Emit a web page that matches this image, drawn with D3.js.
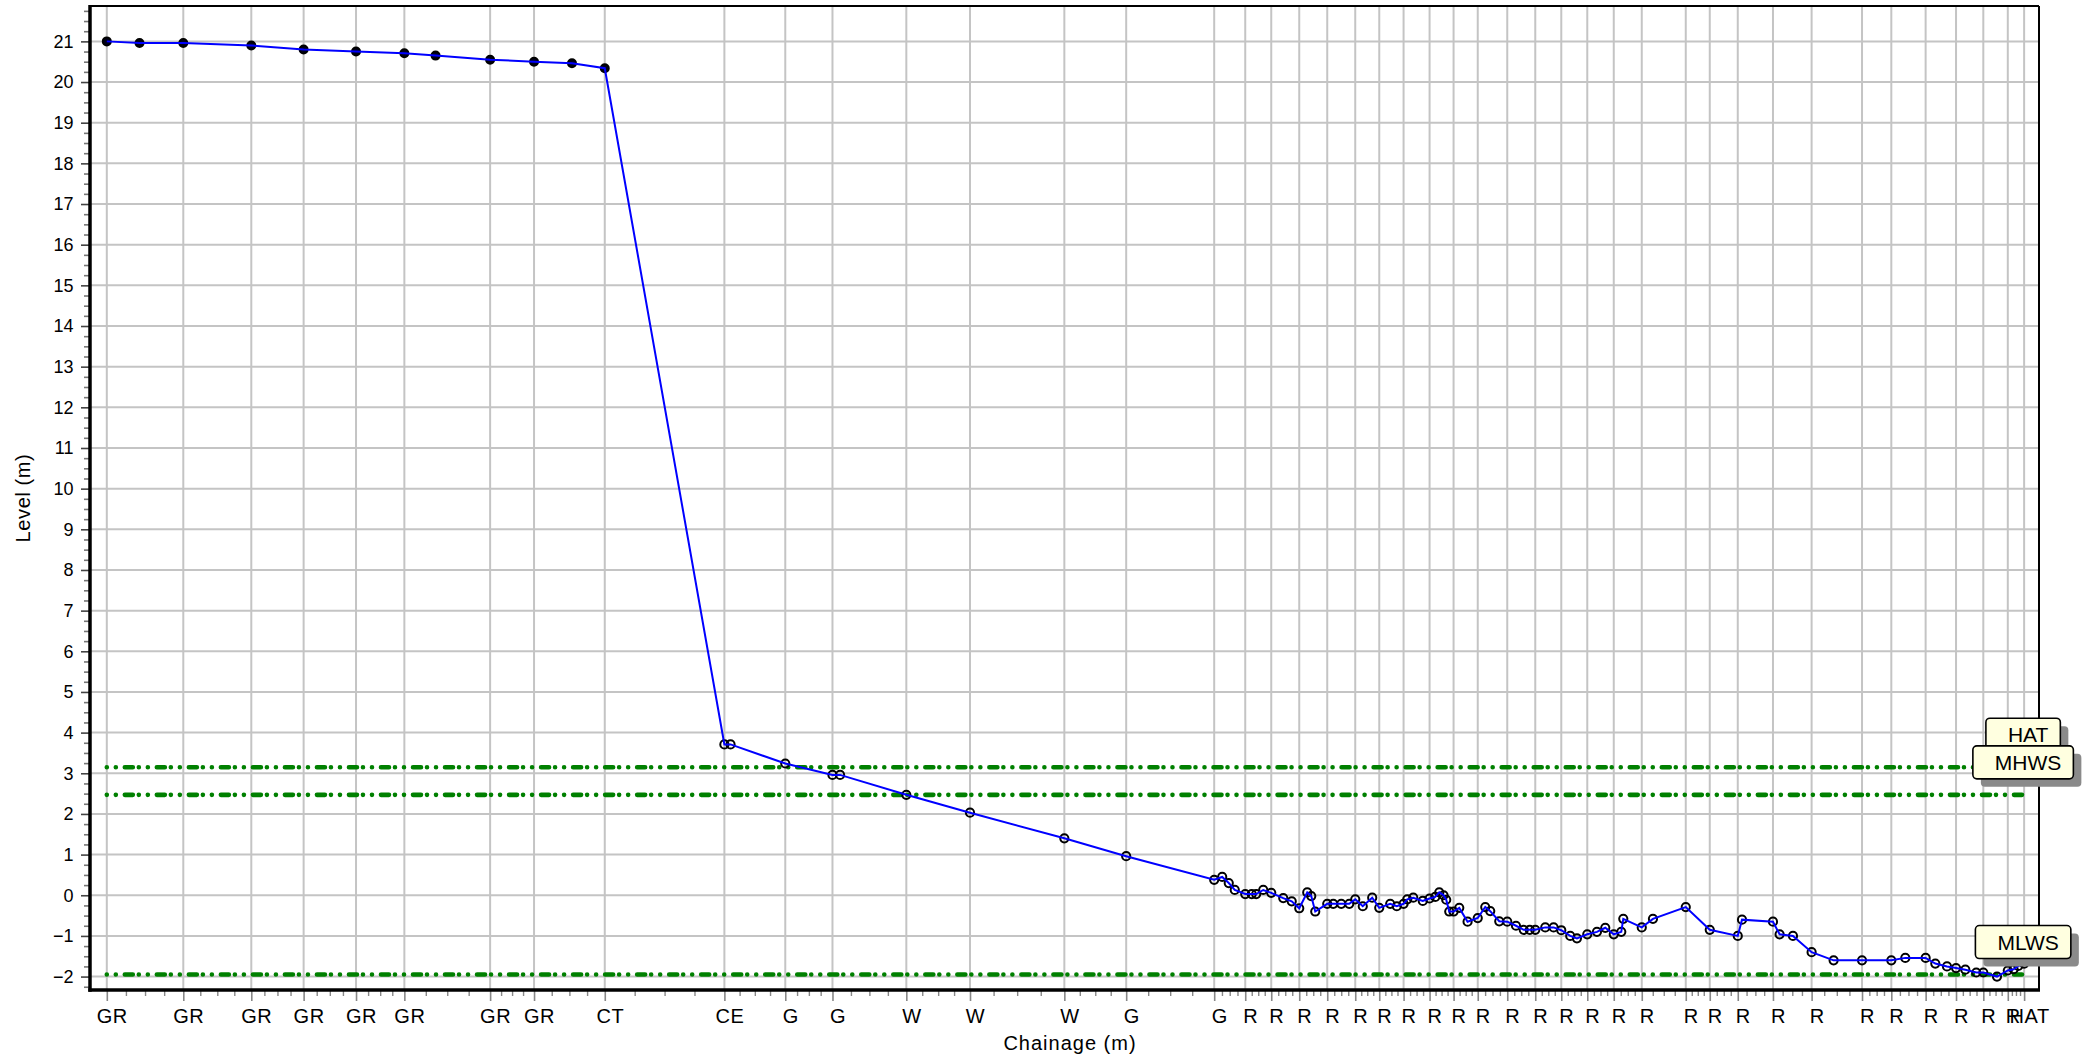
<!DOCTYPE html>
<html><head><meta charset="utf-8">
<script src="https://cdn.jsdelivr.net/npm/d3@7"></script>
<style>
html,body{margin:0;padding:0;background:#fff;}
svg{display:block;font-family:"Liberation Sans",Arial,Helvetica,sans-serif;}
</style></head><body>
<svg id="chart" width="2091" height="1057"></svg>
<script>
// ---- data (chainage in m, level in m) ----
const chainage = [
  0, 4.09, 9.56, 18.06, 24.6, 31.15, 37.19, 41.09, 47.91, 53.4,
  58.14, 62.24, 77.19, 77.96, 84.8, 90.7, 91.65, 99.93, 107.89, 119.68,
  127.41, 138.41, 139.41, 140.23, 140.98, 142.29, 143.1, 143.66, 144.54, 145.54,
  147.04, 148.1, 149.04, 150.04, 150.54, 151.04, 152.54, 153.29, 154.29, 155.29,
  156.04, 156.98, 158.16, 159.04, 160.41, 161.23, 162.08, 162.54, 163.29, 164.48,
  165.33, 166.04, 166.54, 167.08, 167.41, 167.79, 168.33, 169.04, 170.08, 171.35,
  172.29, 172.91, 174.04, 175.04, 176.13, 177.1, 177.85, 178.54, 179.79, 180.83,
  181.79, 182.91, 183.75, 185.04, 186.25, 187.29, 188.35, 189.29, 189.54, 191.85,
  193.25, 197.35, 200.35, 203.85, 204.38, 208.25, 209.08, 210.75, 213.08, 215.83,
  219.38, 223.04, 224.79, 227.33, 228.54, 230.0, 231.13, 232.29, 233.66, 234.54,
  236.25, 237.6, 238.33, 238.91, 239.64
];
const level = [
  21.0, 20.96, 20.96, 20.90, 20.80, 20.75, 20.71, 20.65, 20.55, 20.50,
  20.46, 20.34, 3.71, 3.71, 3.24, 2.96, 2.96, 2.47, 2.03, 1.40,
  0.96, 0.38, 0.45, 0.30, 0.13, 0.03, 0.03, 0.03, 0.13, 0.06,
  -0.07, -0.15, -0.32, 0.07, -0.02, -0.40, -0.21, -0.21, -0.21, -0.21,
  -0.10, -0.27, -0.06, -0.31, -0.21, -0.27, -0.21, -0.10, -0.06, -0.14,
  -0.08, -0.04, 0.07, 0.00, -0.11, -0.40, -0.40, -0.31, -0.65, -0.56,
  -0.29, -0.39, -0.64, -0.65, -0.75, -0.85, -0.85, -0.85, -0.79, -0.79,
  -0.86, -1.00, -1.06, -0.96, -0.90, -0.80, -0.96, -0.90, -0.58, -0.79,
  -0.58, -0.29, -0.85, -1.00, -0.60, -0.65, -0.96, -1.00, -1.40, -1.60,
  -1.60, -1.60, -1.54, -1.54, -1.68, -1.75, -1.79, -1.83, -1.90, -1.90,
  -2.00, -1.85, -1.82, -1.74, -1.68
];
const codes = [
  "GR","","GR","GR","GR","GR","GR","","GR","GR",
  "","CT","CE","","G","G","","W","W","W",
  "G","G","","","","R","","","","R",
  "","","R","","","","R","","","",
  "R","","","R","","","R","","","",
  "R","","","","","","R","","","R",
  "","","","R","","","","R","","",
  "R","","","R","","","R","","","R",
  "","R","R","R","","R","","","R","",
  "R","R","","R","","","R","","","R",
  "","R","","","HAT"
];
const tideNames = ["HAT", "MHWS", "MLWS"];
const tideLevels = [3.15, 2.47, -1.95];
const yTickValues = d3.range(-2, 22, 1);
const yMinorValues = d3.range(-2.25, 21.8, 0.25);
const xDomain = [-2.1, 241.5];
const yDomain = [-2.33, 21.87];

// ---- layout ----
const plot = {left: 90, right: 2039, top: 6, bottom: 990};
const x = d3.scaleLinear().domain(xDomain).range([plot.left, plot.right]);
const y = d3.scaleLinear().domain(yDomain).range([plot.bottom, plot.top]);
const svg = d3.select("#chart");

const pts = chainage.map((c, i) => ({c, v: level[i], code: codes[i], i}));
const ctIndex = codes.indexOf("CT");
const majors = pts.filter(p => p.code !== "");

// gridlines
const grid = svg.append("g").attr("stroke", "#c4c4c4").attr("stroke-width", 2);
grid.selectAll("line.h").data(yTickValues).join("line")
  .attr("x1", plot.left).attr("x2", plot.right)
  .attr("y1", d => y(d)).attr("y2", d => y(d));
grid.selectAll("line.v").data(majors).join("line")
  .attr("y1", plot.top).attr("y2", plot.bottom)
  .attr("x1", d => x(d.c)).attr("x2", d => x(d.c));

// tidal lines
const c0 = chainage[0], c1 = chainage[chainage.length - 1];
svg.append("g").selectAll("path").data(tideLevels).join("path")
  .attr("d", d => d3.line()([[x(c0), y(d)], [x(c1), y(d)]]))
  .attr("stroke", "#008000").attr("stroke-width", 4.6)
  .attr("stroke-linecap", "round").attr("fill", "none")
  .attr("stroke-dasharray", "0.01,9,0.01,9,8,6");

// markers
const mk = svg.append("g");
mk.selectAll("circle").data(pts).join("circle")
  .attr("cx", d => x(d.c)).attr("cy", d => y(d.v))
  .attr("r", d => d.i <= ctIndex ? 4 : 4.1)
  .attr("fill", d => d.i <= ctIndex ? "#00001a" : "none")
  .attr("stroke", "#000").attr("stroke-width", 2);

// profile line
svg.append("path").datum(pts)
  .attr("d", d3.line().x(d => x(d.c)).y(d => y(d.v)))
  .attr("fill", "none").attr("stroke", "#0000ff").attr("stroke-width", 2);

// y axis
const yMinor = svg.append("g").attr("transform", `translate(${plot.left},0)`)
  .call(d3.axisLeft(y).tickValues(yMinorValues.filter(v => Math.abs(v - Math.round(v)) > 0.01)).tickSize(6).tickFormat(""));
yMinor.select(".domain").remove();
yMinor.selectAll("line").attr("stroke", "#777").attr("stroke-width", 1.6);
const yAx = svg.append("g").attr("transform", `translate(${plot.left},0)`)
  .call(d3.axisLeft(y).tickValues(yTickValues).tickSize(9).tickPadding(7.5).tickFormat(d3.format("d")));
yAx.select(".domain").remove();
yAx.selectAll("line").attr("stroke", "#444").attr("stroke-width", 1.6);
yAx.selectAll("text").attr("font-size", 18).attr("fill", "#000")
  .attr("font-family", "'Liberation Sans',Arial,sans-serif");

// x axis minor ticks: 3 between consecutive major ticks
const xMinorVals = [];
for (let k = 0; k < majors.length - 1; k++) {
  const a = majors[k].c, b = majors[k + 1].c;
  for (let j = 1; j <= 3; j++) xMinorVals.push(a + (b - a) * j / 4);
}
const xMinor = svg.append("g").attr("transform", `translate(0,${plot.bottom})`)
  .call(d3.axisBottom(x).tickValues(xMinorVals).tickSize(6).tickFormat(""));
xMinor.select(".domain").remove();
xMinor.selectAll("line").attr("stroke", "#888").attr("stroke-width", 1.4);
const xAx = svg.append("g").attr("transform", `translate(0,${plot.bottom})`)
  .call(d3.axisBottom(x).tickValues(majors.map(d => d.c)).tickSize(11).tickPadding(8)
    .tickFormat((d, i) => majors[i].code));
xAx.select(".domain").remove();
xAx.selectAll("line").attr("stroke", "#888").attr("stroke-width", 1.6);
xAx.selectAll("text").attr("font-size", 20).attr("fill", "#000").attr("dx", 5)
  .attr("letter-spacing", 0.5)
  .attr("font-family", "'Liberation Sans',Arial,sans-serif");

// frame
const fr = svg.append("g");
fr.append("line").attr("x1", plot.left).attr("x2", plot.right).attr("y1", plot.top).attr("y2", plot.top)
  .attr("stroke", "#000").attr("stroke-width", 2);
fr.append("line").attr("x1", plot.right).attr("x2", plot.right).attr("y1", plot.top).attr("y2", plot.bottom)
  .attr("stroke", "#000").attr("stroke-width", 2);
fr.append("line").attr("x1", plot.left).attr("x2", plot.left).attr("y1", plot.top - 1).attr("y2", plot.bottom + 1.7)
  .attr("stroke", "#000").attr("stroke-width", 3.5);
fr.append("line").attr("x1", plot.left - 1.7).attr("x2", plot.right + 1).attr("y1", plot.bottom).attr("y2", plot.bottom)
  .attr("stroke", "#000").attr("stroke-width", 3.5);

// axis titles
svg.append("text").attr("x", 1070).attr("y", 1050).attr("text-anchor", "middle")
  .attr("font-size", 20).attr("letter-spacing", 1).text("Chainage (m)");
svg.append("text").attr("transform", "translate(29.5,498) rotate(-90)").attr("text-anchor", "middle")
  .attr("font-size", 20).attr("letter-spacing", 0.6).text("Level (m)");

// tide labels
const xc = x(c1) - 1;
tideNames.forEach((name, k) => {
  const g = svg.append("g");
  const t = g.append("text").attr("font-size", 21).attr("text-anchor", "middle").text(name);
  const tw = t.node().getComputedTextLength();
  const bw = tw + 34, bh = 33;
  const by = y(tideLevels[k]) - 16 - bh;
  g.insert("rect", "text").attr("x", xc - bw / 2 + 8).attr("y", by + 8).attr("width", bw).attr("height", bh)
    .attr("rx", 4).attr("fill", "#8a8a8a");
  g.insert("rect", "text").attr("x", xc - bw / 2).attr("y", by).attr("width", bw).attr("height", bh)
    .attr("rx", 4).attr("fill", "#ffffe0").attr("stroke", "#000").attr("stroke-width", 1.6);
  t.attr("x", xc + 5).attr("y", by + bh / 2 + 7.5);
});
</script>
</body></html>
